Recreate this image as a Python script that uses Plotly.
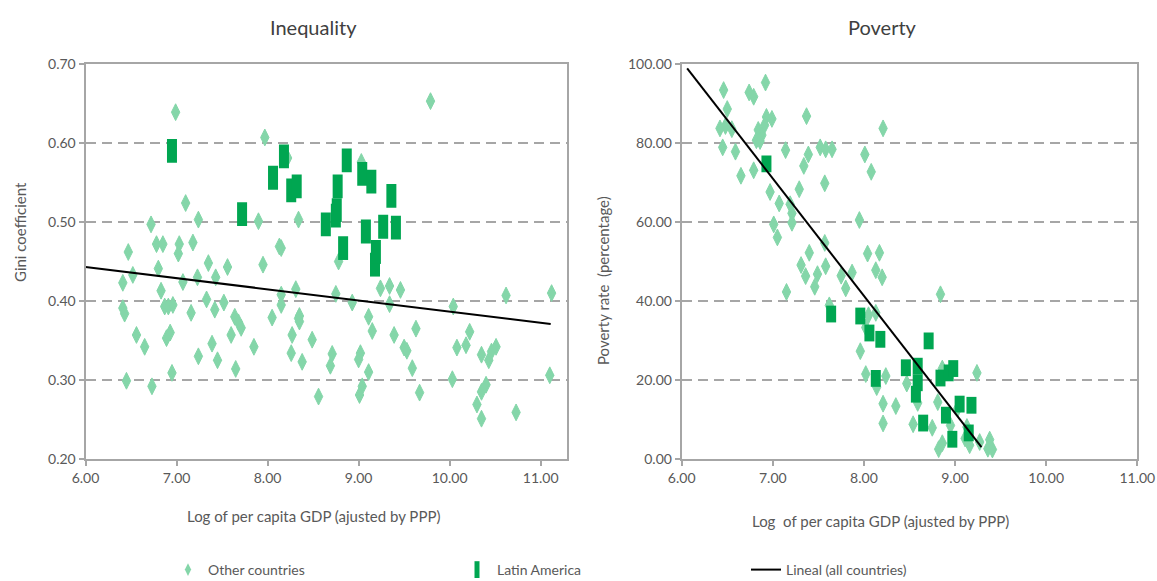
import plotly.graph_objects as go

# ---------------- DATA ----------------
# Inequality panel: log GDP per capita (PPP) vs Gini coefficient
ineq_other_x = [6.99, 7.97, 9.79, 9.03, 8.22, 7.10, 6.72, 7.24, 7.90, 8.34, 6.47, 6.78, 6.85, 7.03, 7.02, 7.18,
                8.13, 8.15, 8.78, 6.52, 6.41, 6.80, 6.83, 7.07, 7.23, 7.35, 7.43, 7.56, 7.95, 8.15, 8.15, 8.31,
                6.41, 6.43, 6.87, 6.91, 6.96, 7.16, 7.33, 7.42, 7.52, 7.64, 7.68, 7.71, 8.05, 8.34, 6.56, 6.65,
                6.89, 6.93, 7.24, 7.39, 7.45, 7.60, 7.65, 7.85, 8.27, 8.26, 6.45, 6.73, 6.95,
                8.75, 8.93, 9.24, 9.34, 9.46, 9.34, 10.04, 10.62, 11.12, 8.35, 8.35, 8.49, 8.38, 9.11, 9.15,
                9.39, 9.63, 9.50, 9.53, 8.71, 8.69, 9.02, 9.00, 9.11, 9.59, 9.04, 9.01, 8.56, 9.67, 10.03,
                10.08, 10.18, 10.22, 10.35, 10.43, 10.46, 10.51, 10.40, 10.35, 10.30, 10.35, 10.73, 11.10]
ineq_other_y = [0.639, 0.607, 0.653, 0.576, 0.581, 0.524, 0.497, 0.503, 0.501, 0.503, 0.462, 0.472, 0.472, 0.472,
                0.460, 0.474, 0.469, 0.467, 0.450, 0.433, 0.423, 0.441, 0.413, 0.424, 0.430, 0.448, 0.430, 0.443,
                0.446, 0.408, 0.395, 0.415, 0.391, 0.384, 0.393, 0.393, 0.395, 0.385, 0.402, 0.389, 0.398, 0.380,
                0.373, 0.366, 0.379, 0.378, 0.357, 0.342, 0.353, 0.360, 0.330, 0.346, 0.325, 0.357, 0.314, 0.342,
                0.357, 0.334, 0.299, 0.292, 0.309,
                0.409, 0.398, 0.416, 0.419, 0.414, 0.396, 0.393, 0.407, 0.410, 0.381, 0.374, 0.351, 0.323, 0.380,
                0.362, 0.357, 0.365, 0.341, 0.337, 0.333, 0.318, 0.334, 0.326, 0.310, 0.315, 0.292, 0.281, 0.279,
                0.284, 0.301, 0.341, 0.344, 0.361, 0.332, 0.325, 0.336, 0.342, 0.294, 0.285, 0.269, 0.251, 0.259,
                0.306]
ineq_latam_x = [6.95, 7.72, 8.06, 8.18, 8.26, 8.32, 8.64, 8.75, 8.76, 8.77, 8.83, 8.87, 9.04, 9.08, 9.14, 9.18,
                9.19, 9.27, 9.36, 9.41]
ineq_latam_y = [0.590, 0.510, 0.556, 0.583, 0.540, 0.545, 0.497, 0.508, 0.515, 0.545, 0.467, 0.578, 0.561, 0.488,
                0.551, 0.446, 0.462, 0.494, 0.533, 0.493]
ineq_trend_x = [6.00, 11.11]
ineq_trend_y = [0.443, 0.371]

# Poverty panel: log GDP per capita (PPP) vs poverty rate (%)
pov_other_x = [6.46, 6.50, 6.42, 6.48, 6.55, 6.45, 6.59, 6.65, 6.74, 6.79, 6.92, 6.93, 6.99, 6.84, 6.88, 6.82,
               6.86, 6.91, 6.79, 6.97, 7.07, 7.01, 7.05, 7.14, 7.19, 7.21, 7.21, 7.34, 7.39, 7.37, 7.29, 7.57,
               7.52, 7.58, 7.65, 7.57, 7.40, 8.01, 8.08, 7.95, 8.04, 8.17, 8.21,
               7.15, 7.31, 7.36, 7.46, 7.49, 7.58, 7.75, 7.80, 7.87, 7.62, 8.13, 8.20, 8.84, 8.05, 8.13, 8.02,
               7.96, 8.02, 8.14, 8.24, 8.21, 8.35, 8.21, 8.47, 8.54, 8.59, 8.75, 8.81, 8.82, 8.86, 8.86, 8.95,
               9.03, 9.13, 9.11, 9.16, 9.24, 9.27, 9.38, 9.36, 9.41]
pov_other_y = [93.4, 88.6, 83.7, 84.3, 83.5, 78.9, 77.8, 71.7, 92.8, 91.7, 95.3, 86.6, 86.1, 83.3, 82.0, 80.7,
               80.5, 84.5, 73.1, 67.6, 64.7, 59.4, 56.1, 78.2, 64.5, 62.2, 59.8, 74.2, 77.1, 86.8, 68.3, 69.8,
               78.9, 78.4, 78.4, 54.7, 52.2, 77.1, 72.7, 60.5, 52.0, 52.2, 83.7,
               42.3, 49.1, 46.3, 43.6, 46.8, 48.8, 46.4, 43.2, 47.2, 38.9, 47.8, 46.0, 41.7, 36.4, 37.0, 33.3,
               27.3, 21.5, 18.2, 21.0, 14.0, 13.4, 9.0, 19.1, 8.8, 14.2, 7.9, 14.4, 2.5, 4.0, 22.9, 8.5,
               12.8, 8.1, 5.2, 3.5, 21.8, 4.3, 4.9, 2.6, 2.4]
pov_latam_x = [6.93, 7.64, 7.96, 8.06, 8.18, 8.71, 8.13, 8.46, 8.59, 8.59, 8.57, 8.84, 8.93, 8.98, 9.05, 9.18,
               8.90, 8.65, 9.15, 8.97]
pov_latam_y = [74.7, 36.7, 36.2, 31.9, 30.3, 29.9, 20.4, 23.1, 23.5, 19.3, 16.4, 20.5, 21.8, 22.9, 13.9, 13.6,
               11.1, 9.1, 6.6, 5.0]
pov_trend_x = [6.06, 9.29]
pov_trend_y = [98.9, 3.0]

x_ticks = [6, 7, 8, 9, 10, 11]
gini_ticks = [0.2, 0.3, 0.4, 0.5, 0.6, 0.7]
pov_ticks = [0, 20, 40, 60, 80, 100]

titles = ["Inequality", "Poverty"]
x_titles = ["Log of per capita GDP (ajusted by PPP)", "Log  of per capita GDP (ajusted by PPP)"]
y_titles = ["Gini coefficient", "Poverty rate  (percentage)"]
legend_names = ["Other countries", "Latin America", "Lineal (all countries)"]

# ---------------- STYLE ----------------
# The page's default body margin is removed in a post-script, so the figure fills the window.
W, H = 1157, 581
LIGHT = "#84d6a9"
DARK = "#00a651"
AXIS = "#a6a6a6"
TXT = "#595959"
FONT = "Lato"

fig = go.Figure()

# Left panel
fig.add_trace(go.Scatter(x=ineq_other_x, y=ineq_other_y, mode="markers", name=legend_names[0], showlegend=False,
                         marker=dict(symbol="diamond-tall", size=12, color=LIGHT, line=dict(color=LIGHT, width=1)),
                         xaxis="x", yaxis="y", legendgroup="o"))
fig.add_trace(go.Scatter(x=ineq_latam_x, y=ineq_latam_y, mode="markers", name=legend_names[1], showlegend=False,
                         marker=dict(symbol="line-ns", size=17, color=DARK, line=dict(color=DARK, width=10)),
                         xaxis="x", yaxis="y", legendgroup="l"))
fig.add_trace(go.Scatter(x=ineq_trend_x, y=ineq_trend_y, mode="lines", name=legend_names[2], showlegend=False,
                         line=dict(color="black", width=2), xaxis="x", yaxis="y", legendgroup="t"))
# Right panel
fig.add_trace(go.Scatter(x=pov_other_x, y=pov_other_y, mode="markers", name=legend_names[0], showlegend=False,
                         marker=dict(symbol="diamond-tall", size=12, color=LIGHT, line=dict(color=LIGHT, width=1)),
                         xaxis="x2", yaxis="y2", legendgroup="o"))
fig.add_trace(go.Scatter(x=pov_latam_x, y=pov_latam_y, mode="markers", name=legend_names[1], showlegend=False,
                         marker=dict(symbol="line-ns", size=12, color=DARK, line=dict(color=DARK, width=10)),
                         xaxis="x2", yaxis="y2", legendgroup="l"))
fig.add_trace(go.Scatter(x=pov_trend_x, y=pov_trend_y, mode="lines", name=legend_names[2], showlegend=False,
                         line=dict(color="black", width=2), xaxis="x2", yaxis="y2", legendgroup="t"))

# Legend-only entries (no data drawn) so the legend keys can be smaller than the plotted marks
fig.add_trace(go.Scatter(x=[None], y=[None], mode="markers", name=legend_names[0], legendgroup="o",
                         marker=dict(symbol="diamond-tall", size=9, color=LIGHT, line=dict(color=LIGHT, width=0))))
fig.add_trace(go.Scatter(x=[None], y=[None], mode="markers", name=legend_names[1], legendgroup="l",
                         marker=dict(symbol="line-ns", size=12, color=DARK, line=dict(color=DARK, width=5))))
fig.add_trace(go.Scatter(x=[None], y=[None], mode="lines", name=legend_names[2], legendgroup="t",
                         line=dict(color="black", width=2)))

def px_x(p):
    return p / W

def px_y(p):
    return 1 - p / H

common_axis = dict(showline=True, linecolor=AXIS, linewidth=2, mirror=True, ticks="outside",
                   ticklen=5, tickwidth=2, tickcolor=AXIS, tickfont=dict(family=FONT, size=14, color=TXT),
                   tickformat=".2f", zeroline=False, automargin=False)

fig.update_layout(
    width=W, height=H,
    margin=dict(l=0, r=0, t=0, b=0, autoexpand=False),
    paper_bgcolor="white", plot_bgcolor="white",
    font=dict(family=FONT, color=TXT),
    showlegend=True,
    xaxis=dict(domain=[px_x(85.5), px_x(566.7)], range=[6, 11.286], tickvals=x_ticks, showgrid=False,
               anchor="y", **common_axis),
    yaxis=dict(domain=[px_y(459), px_y(64)], range=[0.2, 0.7], tickvals=gini_ticks, showgrid=True,
               gridcolor=AXIS, gridwidth=1.5, griddash="10px,6px", anchor="x", **common_axis),
    xaxis2=dict(domain=[px_x(681.7), px_x(1137.3)], range=[6, 11], tickvals=x_ticks, showgrid=False,
                anchor="y2", **common_axis),
    yaxis2=dict(domain=[px_y(459), px_y(64)], range=[0, 100], tickvals=pov_ticks, showgrid=True,
                gridcolor=AXIS, gridwidth=1.5, griddash="10px,6px", anchor="x2", **common_axis),
    legend=dict(orientation="h", xref="container", yref="container", x=px_x(168), xanchor="left",
                y=px_y(570), yanchor="middle",
                entrywidth=244, entrywidthmode="pixels", font=dict(family=FONT, size=14, color=TXT),
                itemsizing="trace", bgcolor="rgba(0,0,0,0)"),
)

def label(text, x, y, size, color=TXT, angle=0):
    return dict(text=text, x=px_x(x), y=px_y(y), xref="paper", yref="paper", showarrow=False,
                xanchor="center", yanchor="middle", textangle=angle,
                font=dict(family=FONT, size=size, color=color))

annots = [
    label(titles[0], 313, 27, 20, "#404040"),
    label(titles[1], 882, 27, 20, "#404040"),
    label(x_titles[0], 313, 516, 15),
    label(x_titles[1], 880, 521, 15),
    label(y_titles[0], 20, 232, 15, angle=-90),
    label(y_titles[1], 603, 281, 15, angle=-90),
]
fig.update_layout(annotations=annots)

fig.write_html("out.html",
               config={"displayModeBar": False},
               post_script="document.body.style.margin='0px';"
                           "document.documentElement.style.overflow='hidden';"
                           "document.body.style.overflow='hidden';")
